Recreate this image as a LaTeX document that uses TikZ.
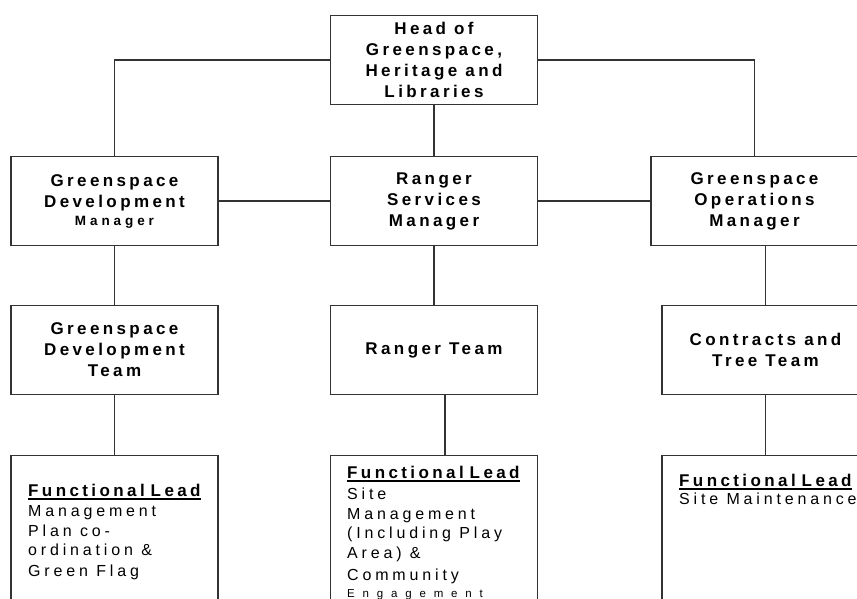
\documentclass[tikz,border=0pt]{standalone}
\usepackage{fontspec}
\setmainfont{Liberation Sans}[LetterSpace=20]

\newcommand{\fnlead}{{\fontsize{17}{19.5}\selectfont\bfseries\addfontfeatures{LetterSpace=20}\spaceskip=6pt\setbox0=\hbox{Functional Lead}\rlap{\rule[-4pt]{\wd0}{2.5pt}}\box0}}

\begin{document}
\begin{tikzpicture}[x=1pt,y=-1pt]
\tikzstyle{every node}+=[inner sep=0pt]
\tikzstyle{post}=[draw=black!80, line width=1.2pt, minimum width=207pt, minimum height=89pt, align=center, font=\fontsize{17}{21}\selectfont\bfseries]
\tikzstyle{lead}=[draw=black!80, line width=1.2pt, minimum width=207pt, minimum height=200pt, anchor=north]
\tikzstyle{leadtext}=[anchor=north west, align=left, font=\fontsize{16}{19.5}\selectfont\addfontfeatures{LetterSpace=24}]
\tikzstyle{link}=[draw=black!80, line width=1.2pt]
\useasboundingbox (0,0) rectangle (857,599);
\clip (0,0) rectangle (857,599);
\node[post] (head) at (434,60) {Head of\\Greenspace,\\Heritage and\\Libraries};
\node[post] (gdm) at (114.5,201) {Greenspace\\Development\\[-3pt]{\fontsize{13.5}{15}\selectfont\addfontfeatures{LetterSpace=29}Manager}};
\node[post] (rsm) at (434,201) {Ranger\\Services\\Manager};
\node[post] (gom) at (754.5,201) {Greenspace\\Operations\\Manager};
\node[post] (gdt) at (114.5,350) {Greenspace\\Development\\Team};
\node[post] (rt) at (434,350) {Ranger Team};
\node[post] (ctt) at (765.5,350) {Contracts and\\Tree Team};
\node[lead] (gdlead) at (114.5,455) {};
\node[lead] (rlead) at (434,455) {};
\node[lead] (ctlead) at (765.5,455) {};
\node[leadtext] (gdleadtxt) at (28,483.5) {\fnlead\\[1pt]Management\\Plan co-\\ordination \&\\[1pt]Green Flag};
\node[leadtext] (rleadtxt) at (347,465.5) {\fnlead\\[2pt]Site\\Management\\(Including Play\\Area) \&\\[3pt]Community\\[-3pt]{\fontsize{11.5}{13}\selectfont\addfontfeatures{LetterSpace=68}Engagement}};
\node[leadtext] (ctleadtxt) at (679,473.5) {\fnlead\\[-1.5pt]Site Maintenance};
\draw[link] (head.west) -| (gdm.north);
\draw[link] (head.east) -| (gom.north);
\draw[link] (head.south) -- (rsm.north);
\draw[link] (gdm.east) -- (rsm.west);
\draw[link] (rsm.east) -- (gom.west);
\draw[link] (gdm.south) -- (gdt.north);
\draw[link] (rsm.south) -- (rt.north);
\draw[link] (gom.south -| ctt.north) -- (ctt.north);
\draw[link] (gdt.south) -- (gdlead.north);
\draw[link] ([xshift=11pt]rt.south) -- ([xshift=11pt]rlead.north);
\draw[link] (ctt.south) -- (ctlead.north);
\end{tikzpicture}
\end{document}
